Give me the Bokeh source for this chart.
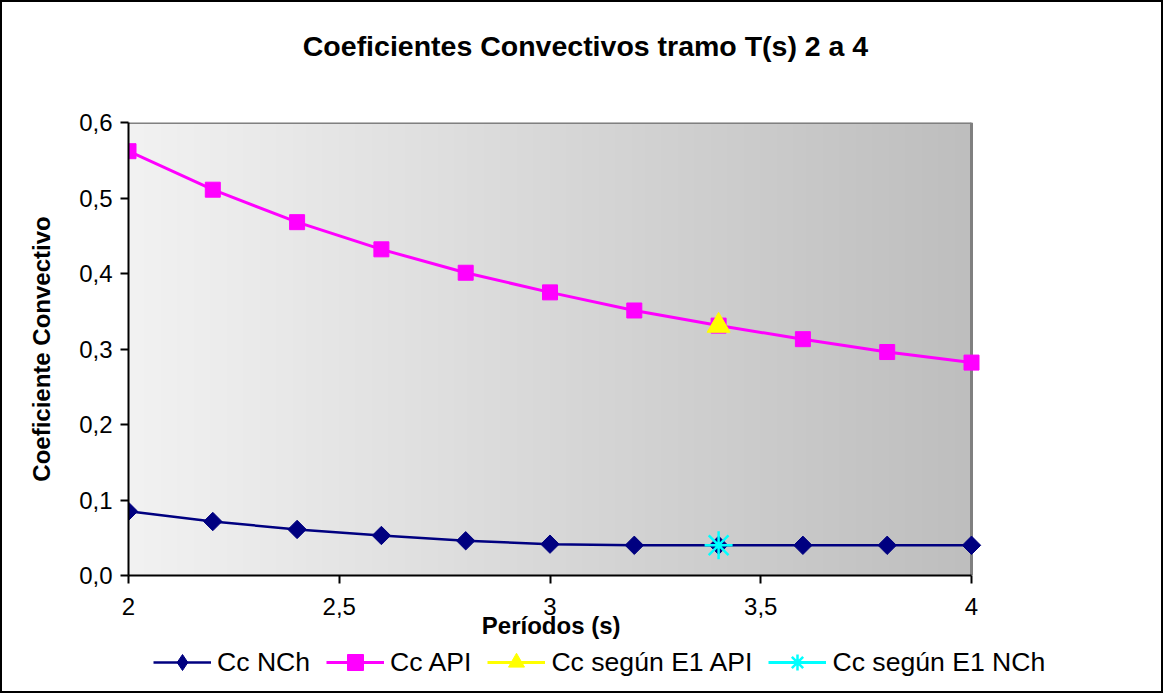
import numpy as np
from bokeh.plotting import figure
from bokeh.layouts import column
from bokeh.models import Range1d, FixedTicker, Legend, LegendItem, Label
from bokeh.embed import file_html
from bokeh.resources import INLINE

# ---- data ----
periods = [2.0, 2.2, 2.4, 2.6, 2.8, 3.0, 3.2, 3.4, 3.6, 3.8, 4.0]
cc_nch = [0.085, 0.0715, 0.061, 0.053, 0.046, 0.0415, 0.040, 0.040, 0.040, 0.040, 0.040]
cc_api = [0.562, 0.511, 0.468, 0.432, 0.401, 0.375, 0.351, 0.331, 0.313, 0.296, 0.282]
e1_api_x = [3.4]
e1_api_y = [0.331]
e1_nch_x = [3.4]
e1_nch_y = [0.040]
x_ticks = [2, 2.5, 3, 3.5, 4]
x_tick_labels = ["2", "2,5", "3", "3,5", "4"]
y_ticks = [0.0, 0.1, 0.2, 0.3, 0.4, 0.5, 0.6]
y_tick_labels = ["0,0", "0,1", "0,2", "0,3", "0,4", "0,5", "0,6"]
series_names = ["Cc NCh", "Cc API", "Cc según E1 API", "Cc según E1 NCh"]
title_text = "Coeficientes Convectivos tramo T(s) 2 a 4"
x_label = "Períodos (s)"
y_label = "Coeficiente Convectivo"

FONT = "Liberation Sans"
W = 1159

# plot area (2..4) is 843 px wide; the frame is extended 89 px to the right so the
# legend strip (whose frame is aligned with this one) is wide enough
X0, X1 = x_ticks[0], x_ticks[-1]
Y0, Y1 = y_ticks[0], y_ticks[-1]
X_END = X1 + 89 * (X1 - X0) / 843

# ---------- title strip ----------
pt = figure(width=W, height=88, output_backend="svg", toolbar_location=None,
            x_axis_type=None, y_axis_type=None, min_border=0,
            x_range=Range1d(0, 1), y_range=Range1d(0, 1))
pt.outline_line_color = None
pt.grid.visible = False
pt.add_layout(Label(x=457, y=45, x_units="screen", y_units="screen", text=title_text,
                    text_font=FONT, text_font_size="28.5px", text_font_style="bold",
                    text_align="center", text_baseline="middle", text_color="black"))

# ---------- main chart ----------
p = figure(width=W, height=554, output_backend="svg", toolbar_location=None,
           x_range=Range1d(X0, X_END), y_range=Range1d(Y0, Y1),
           min_border_left=126, min_border_right=101, min_border_top=32, min_border_bottom=69)
p.background_fill_color = "white"
p.border_fill_color = "white"
p.grid.visible = False
p.outline_line_color = None

ncol = 256
shade = np.linspace(242, 190, ncol).astype(np.uint32)
img = np.empty((1, ncol), dtype=np.uint32)
view = img.view(dtype=np.uint8).reshape((1, ncol, 4))
view[..., 0] = shade
view[..., 1] = shade
view[..., 2] = shade
view[..., 3] = 255
p.image_rgba(image=[img], x=X0, y=Y0, dw=X1 - X0, dh=Y1 - Y0, level="image")
# grey top / right border of the plot area
p.segment(x0=[X0, X1], y0=[Y1, Y0], x1=[X1, X1], y1=[Y1, Y1], line_color="#808080", line_width=3)


def draw_series(fig, nch_marker, nch_angle):
    r = []
    r.append((fig.line(periods, cc_nch, line_color="#000080", line_width=2.5),
              fig.scatter(periods, cc_nch, marker=nch_marker, angle=nch_angle, size=13,
                          fill_color="#000080", line_color="#000080")))
    r.append((fig.line(periods, cc_api, line_color="#FF00FF", line_width=3),
              fig.scatter(periods, cc_api, marker="square", size=15,
                          fill_color="#FF00FF", line_color="#FF00FF")))
    r.append((fig.line(e1_api_x, e1_api_y, line_color="#FFFF00", line_width=3),
              fig.scatter(e1_api_x, e1_api_y, marker="triangle", size=23,
                          fill_color="#FFFF00", line_color="#FFFF00")))
    r.append((fig.line(e1_nch_x, e1_nch_y, line_color="#00FFFF", line_width=3),
              fig.scatter(e1_nch_x, e1_nch_y, marker="asterisk", size=28,
                          line_color="#00FFFF", line_width=2.5)))
    return r


draw_series(p, "square", np.pi / 4)

for ax in (p.xaxis[0], p.yaxis[0]):
    ax.axis_line_color = "black"
    ax.axis_line_width = 2
    ax.major_tick_line_color = "black"
    ax.major_tick_line_width = 2
    ax.major_tick_in = 0
    ax.major_tick_out = 8
    ax.minor_tick_line_color = None
    ax.major_label_text_font = FONT
    ax.major_label_text_font_size = "24px"
    ax.major_label_text_color = "black"
    ax.axis_label_text_font = FONT
    ax.axis_label_text_font_size = "24px"
    ax.axis_label_text_font_style = "bold"
    ax.axis_label_text_color = "black"

p.xaxis.bounds = (X0, X1)
p.xaxis.ticker = FixedTicker(ticks=x_ticks)
p.xaxis.major_label_overrides = {t: l for t, l in zip(x_ticks, x_tick_labels)}
p.yaxis.ticker = FixedTicker(ticks=y_ticks)
p.yaxis.major_label_overrides = {t: l for t, l in zip(y_ticks, y_tick_labels)}
# the frame is centred 44 px right of the plot area; trailing no-break spaces
# keep the x label centred under the plot area
p.xaxis.axis_label = x_label + "\u00a0" * 13
p.yaxis.axis_label = y_label
p.xaxis.major_label_standoff = 14
p.xaxis.axis_label_standoff = -6
p.yaxis.major_label_standoff = 8
p.yaxis.axis_label_standoff = 21

# ---------- legend strip ----------
pl = figure(width=W, height=47, output_backend="svg", toolbar_location=None,
            x_axis_type=None, y_axis_type=None, min_border=0,
            x_range=Range1d(0, 1), y_range=Range1d(0, 1))
pl.outline_line_color = None
pl.grid.visible = False
proxies = draw_series(pl, "diamond", 0)  # same series; outside this strip's range, used only for the legend
legend = Legend(items=[LegendItem(label=n, renderers=list(rs)) for n, rs in zip(series_names, proxies)],
                orientation="horizontal", location=(25, 9),
                label_text_font=FONT, label_text_font_size="26.6px", label_text_color="black",
                glyph_width=58, glyph_height=40, label_standoff=6, spacing=16,
                border_line_color=None, background_fill_alpha=0, padding=1, margin=0)
pl.add_layout(legend, "center")

layout = column(pt, p, pl, spacing=0, styles={"border": "2px solid black"})

open("out.html", "w").write(file_html(layout, INLINE))
